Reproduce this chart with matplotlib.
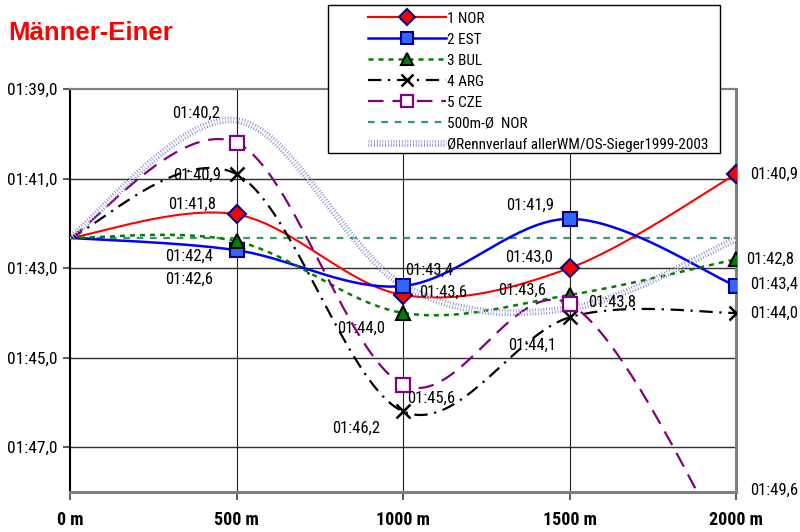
import numpy as np
import matplotlib
matplotlib.use("Agg")
import matplotlib.pyplot as plt
import matplotlib.patheffects as pe
from matplotlib.patches import Rectangle

# narrow sans similar to the spreadsheet font
plt.rcParams['font.family'] = ['Roboto Condensed', 'Liberation Sans', 'DejaVu Sans']

distances = [0, 500, 1000, 1500, 2000]
dist_labels = ['0 m', '500 m', '1000 m', '1500 m', '2000 m']

# 500 m split times in seconds
nor = [101.8, 103.6, 103.0, 100.9]
est = [102.6, 103.4, 101.9, 103.4]
bul = [102.4, 104.0, 103.6, 102.8]
arg = [100.9, 106.2, 104.1, 104.0]
cze = [100.2, 105.6, 103.8, 109.6]
renn = [99.7, 103.38, 103.9, 102.36]   # average of all WM/OS winners 1999-2003

nor_avg = np.mean(nor)

series_names = ['1 NOR', '2 EST', '3 BUL', '4 ARG', '5 CZE']
avg_name = '500m-Ø  NOR'
renn_name = 'ØRennverlauf allerWM/OS-Sieger1999-2003'

y_ticks = [99, 101, 103, 105, 107]
y_min, y_max = 99, 108

# label offsets in points (per series, per split)
label_offsets = [
    [(-32, 7), (29, 2), (-29, 8), (10, 0)],
    [(-34, -21), (19, 11), (-28, 10), (10, 1)],
    [(-34, -11), (-30, -11), (-34, 3), (7, 0)],
    [(-28, -1), (-34, -12), (-27, -20), (10, 0)],
    [(-29, 21), (20, -10), (31, 1), (10, 1)],
]
label_ha = ['center', 'center', 'center', 'left']


def fmt_time(v):
    m = int(v // 60)
    return '{:02d}:{:04.1f}'.format(m, v - 60 * m).replace('.', ',')


def smooth(xs, ys, n=40):
    # Bezier smoothing like the spreadsheet "smoothed line" option
    p = np.column_stack([xs, ys]).astype(float)
    pts = [p[0]]
    for i in range(len(p) - 1):
        p0 = p[i - 1] if i > 0 else p[i]
        p3 = p[i + 2] if i + 2 < len(p) else p[i + 1]
        c1 = p[i] + (p[i + 1] - p0) / 6
        c2 = p[i + 1] - (p3 - p[i]) / 6
        t = np.linspace(0, 1, n)[1:, None]
        seg = ((1 - t) ** 3 * p[i] + 3 * (1 - t) ** 2 * t * c1
               + 3 * (1 - t) * t ** 2 * c2 + t ** 3 * p[i + 1])
        pts.extend(seg)
    pts = np.array(pts)
    return pts[:, 0], pts[:, 1]


styles = [
    dict(color='#ff0000', lw=1.5, ls='-', marker='D', ms=9, mfc='#ff0000', mec='#000080', mew=1.5),
    dict(color='#0000ff', lw=1.8, ls='-', marker='s', ms=10, mfc='#3366ff', mec='#000080', mew=1.5),
    dict(color='#008000', lw=1.8, ls=(0, (2, 2)), marker='^', ms=10, mfc='#008000', mec='#000000', mew=1.5),
    dict(color='#000000', lw=1.6, ls=(0, (6, 3, 1, 3)), marker='x', ms=10, mfc='none', mec='#000000', mew=1.8),
    dict(color='#800080', lw=1.6, ls=(0, (7, 4)), marker='s', ms=10, mfc='white', mec='#800080', mew=1.6),
]

fig = plt.figure(figsize=(8, 5.32), dpi=100)
ax = fig.add_axes([70 / 800, 1 - 492 / 532, 666 / 800, 403 / 532])

handles = []
for name, vals, st in zip(series_names, [nor, est, bul, arg, cze], styles):
    ys = [nor_avg] + vals
    sx, sy = smooth(distances, ys)
    ax.plot(sx, sy, color=st['color'], lw=st['lw'], ls=st['ls'], zorder=3)
    ax.plot(distances[1:], vals, ls='none', marker=st['marker'], ms=st['ms'],
            mfc=st['mfc'], mec=st['mec'], mew=st['mew'], zorder=5)
    h, = ax.plot([], [], color=st['color'], lw=st['lw'], ls=st['ls'], marker=st['marker'],
                 ms=st['ms'], mfc=st['mfc'], mec=st['mec'], mew=st['mew'])
    handles.append(h)

h_avg, = ax.plot([distances[0], distances[-1]], [nor_avg, nor_avg], color='#339966',
                 lw=1.6, ls=(0, (3, 3)), zorder=2)
handles.append(h_avg)

rx, ry = smooth(distances, [nor_avg] + renn)
h_renn, = ax.plot(rx, ry, color='white', lw=1.6, ls=(0, (0.35, 0.9)), zorder=4,
                  path_effects=[pe.Stroke(linewidth=4.8, foreground='#7070c8'), pe.Normal()])
handles.append(h_renn)

# data labels
for k, vals in enumerate([nor, est, bul, arg, cze]):
    for i, v in enumerate(vals):
        yv = min(v, y_max)
        ax.annotate(fmt_time(v), (distances[i + 1], yv), xytext=label_offsets[k][i],
                    textcoords='offset points', ha=label_ha[i], va='center',
                    fontsize=12, annotation_clip=False, zorder=6)

ax.set_xlim(distances[0], distances[-1])
ax.set_ylim(y_max, y_min)
ax.set_yticks(y_ticks)
ax.set_yticklabels([fmt_time(v) for v in y_ticks], fontsize=12.5)
ax.set_xticks(distances)
ax.set_xticklabels(dist_labels, fontsize=13, fontweight='bold')
ax.tick_params(axis='y', direction='out', length=5, width=1.2, color='#404040', pad=4)
ax.tick_params(axis='x', direction='out', length=6, width=1.2, color='#404040', pad=8)

for v in y_ticks[1:]:
    ax.axhline(v, color='#303030', lw=1.0, zorder=1)
for d in distances[1:-1]:
    ax.axvline(d, color='#202020', lw=0.8, zorder=1)

ax.spines['left'].set_color('#000000')
ax.spines['left'].set_linewidth(1.5)
ax.spines['bottom'].set_color('#808080')
ax.spines['bottom'].set_linewidth(2.2)
ax.spines['top'].set_color('#808080')
ax.spines['top'].set_linewidth(1.6)
ax.spines['right'].set_color('#808080')
ax.spines['right'].set_linewidth(2.2)

fig.text(8 / 800, 1 - 33 / 532, 'Männer-Einer', color='#ff0000', fontsize=18.5,
         fontweight='bold', family='Liberation Sans', va='center', ha='left')

# legend box
fig.patches.append(Rectangle((328 / 800, 1 - 153 / 532), 392 / 800, 148 / 532,
                             transform=fig.transFigure, facecolor='white',
                             edgecolor='#000000', lw=1.0, zorder=1))
fig.legend(handles, series_names + [avg_name, renn_name], loc='upper left',
           bbox_to_anchor=(363 / 800, 1 - 7 / 532), frameon=False, fontsize=11,
           handlelength=5.1, handletextpad=0.1, labelspacing=0.46, numpoints=1,
           borderaxespad=0, borderpad=0.3, markerscale=0.85)

fig.savefig('out.png', dpi=100)
